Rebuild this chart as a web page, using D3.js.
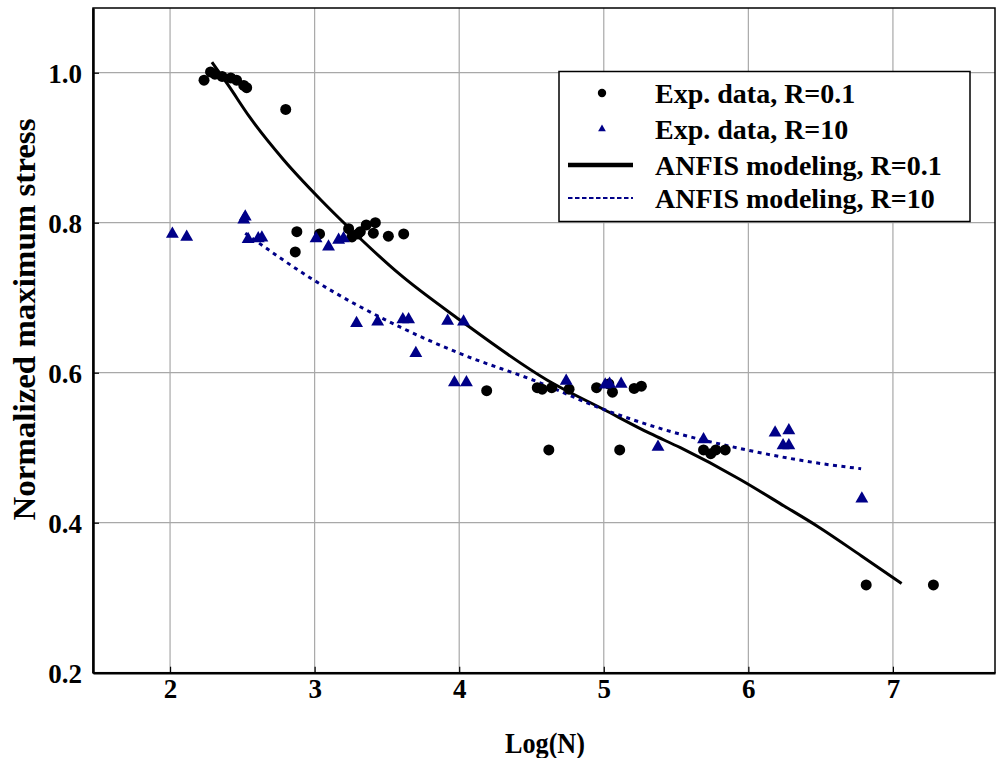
<!DOCTYPE html>
<html>
<head>
<meta charset="utf-8">
<script src="https://cdn.jsdelivr.net/npm/d3@7"></script>
<style>
  html, body { margin: 0; padding: 0; background: #fff; }
  svg { display: block; }
  text { font-family: "Liberation Serif", "Times New Roman", serif; font-weight: bold; fill: #000; }
</style>
</head>
<body>
<svg id="chart" width="997" height="758"></svg>
<script>
// ---- data ----
const xTicks = [2, 3, 4, 5, 6, 7];
const yTicks = [0.2, 0.4, 0.6, 0.8, 1.0];

const expR01 = [
  [2.235,0.990],[2.28,1.001],[2.31,0.998],[2.36,0.995],[2.42,0.993],[2.46,0.990],[2.51,0.983],[2.53,0.980],
  [2.80,0.951],[2.866,0.761],[2.877,0.788],[3.034,0.785],[3.235,0.792],[3.258,0.781],[3.30,0.785],
  [3.316,0.788],[3.357,0.797],[3.406,0.786],[3.42,0.800],[3.51,0.782],[3.616,0.785],
  [4.19,0.576],[4.54,0.580],[4.574,0.578],[4.64,0.580],[4.76,0.578],[4.62,0.497],[4.95,0.580],
  [5.035,0.585],[5.06,0.574],[5.11,0.497],[5.21,0.579],[5.26,0.582],
  [5.69,0.497],[5.74,0.492],[5.775,0.497],[5.84,0.497],[6.815,0.317],[7.28,0.317]
];
const expR10 = [
  [2.016,0.785],[2.115,0.781],[2.51,0.804],[2.52,0.808],[2.54,0.778],[2.61,0.779],[2.635,0.780],
  [3.01,0.779],[3.096,0.768],[3.166,0.777],[3.20,0.779],[3.29,0.666],[3.436,0.668],[3.61,0.671],
  [3.65,0.671],[3.70,0.626],[3.92,0.669],[4.03,0.668],[3.967,0.587],[4.05,0.587],[4.74,0.589],
  [5.01,0.584],[5.04,0.585],[5.12,0.585],[5.375,0.501],[5.69,0.511],[6.185,0.520],[6.28,0.523],
  [6.24,0.503],[6.28,0.503],[6.785,0.432]
];
const anfisR01 = [
  [2.29,1.014],[2.40,0.984],[2.55,0.941],[2.785,0.884],[3.04,0.831],[3.25,0.791],[3.59,0.731],
  [4.00,0.671],[4.61,0.590],[5.00,0.551],[5.32,0.519],[5.53,0.500],
  [5.94,0.458],[6.25,0.422],[6.48,0.395],[6.78,0.356],[7.06,0.319]
];
const anfisR10 = [
  [2.52,0.786],[2.99,0.724],[3.59,0.661],[4.00,0.626],[4.54,0.588],[5.00,0.551],
  [5.42,0.524],[5.99,0.497],[6.57,0.477],[6.78,0.472]
];
const legendLabels = ["Exp. data, R=0.1", "Exp. data, R=10", "ANFIS modeling, R=0.1", "ANFIS modeling, R=10"];
const xTitle = "Log(N)";
const yTitle = "Normalized maximum stress";

// ---- layout ----
const L = 93, R = 995, T = 8, B = 672.7;
const navy = "#000088";
const svg = d3.select("#chart");
const x = d3.scaleLinear().domain([1.467, 7.706]).range([L, R]);
const y = d3.scaleLinear().domain([0.2, 1.0863]).range([B, T]);

// grid
svg.append("g").selectAll("line").data(xTicks).join("line")
  .attr("x1", d => x(d)).attr("x2", d => x(d)).attr("y1", T).attr("y2", B)
  .attr("stroke", "#a8a8a8").attr("stroke-width", 1.2);
svg.append("g").selectAll("line").data(yTicks.filter(d => d > 0.2)).join("line")
  .attr("x1", L).attr("x2", R).attr("y1", d => y(d)).attr("y2", d => y(d))
  .attr("stroke", "#a8a8a8").attr("stroke-width", 1.2);

// frame
svg.append("rect").attr("x", L).attr("y", T).attr("width", R - L).attr("height", B - T)
  .attr("fill", "none").attr("stroke", "#000").attr("stroke-width", 1.5);

// axes
const xAxis = d3.axisBottom(x).tickValues(xTicks).tickSizeInner(-6).tickSizeOuter(0).tickPadding(12)
  .tickFormat(d3.format("d"));
const gx = svg.append("g").attr("transform", `translate(0,${B})`).call(xAxis);
gx.select(".domain").attr("stroke", "#000").attr("stroke-width", 2.5);
gx.selectAll(".tick line").attr("stroke", "#000").attr("stroke-width", 1.2);
gx.selectAll("text").attr("font-size", 27).attr("font-family", "Liberation Serif").attr("font-weight", "bold")
  .attr("dy", "0.5em");

const yAxis = d3.axisLeft(y).tickValues(yTicks).tickSizeInner(-6).tickSizeOuter(0).tickPadding(11)
  .tickFormat(d3.format(".1f"));
const gy = svg.append("g").attr("transform", `translate(${L},0)`).call(yAxis);
gy.select(".domain").attr("stroke", "#000").attr("stroke-width", 2.5);
gy.selectAll(".tick line").attr("stroke", "#000").attr("stroke-width", 1.2);
gy.selectAll("text").attr("font-size", 27).attr("font-family", "Liberation Serif").attr("font-weight", "bold")
  .attr("dy", "0.36em");

// titles
svg.append("text").attr("x", 545).attr("y", 753).attr("text-anchor", "middle")
  .attr("font-size", 29).attr("textLength", 80).attr("lengthAdjust", "spacingAndGlyphs").text(xTitle);
svg.append("text").attr("transform", `translate(35,${(118 + 521) / 2}) rotate(-90)`)
  .attr("text-anchor", "middle").attr("font-size", 31)
  .attr("textLength", 402).attr("lengthAdjust", "spacingAndGlyphs").text(yTitle);

// lines
const line = d3.line().x(d => x(d[0])).y(d => y(d[1])).curve(d3.curveMonotoneX);
svg.append("path").datum(anfisR01).attr("d", line).attr("fill", "none")
  .attr("stroke", "#000").attr("stroke-width", 3);
svg.append("path").datum(anfisR10).attr("d", line).attr("fill", "none")
  .attr("stroke", navy).attr("stroke-width", 3).attr("stroke-dasharray", "4,4.5");

// points
svg.append("g").selectAll("circle").data(expR01).join("circle")
  .attr("cx", d => x(d[0])).attr("cy", d => y(d[1])).attr("r", 5.5).attr("fill", "#000");
const tri = d3.symbol().type(d3.symbolTriangle).size(72);
svg.append("g").selectAll("path").data(expR10).join("path")
  .attr("transform", d => `translate(${x(d[0])},${y(d[1])})`).attr("d", tri).attr("fill", navy);

// legend
const lg = svg.append("g");
lg.append("rect").attr("x", 559).attr("y", 71.5).attr("width", 411).attr("height", 150)
  .attr("fill", "#fff").attr("stroke", "#000").attr("stroke-width", 1.5);
const rows = [93, 129, 165, 198];
lg.append("circle").attr("cx", 602).attr("cy", rows[0]).attr("r", 4.2).attr("fill", "#000");
lg.append("path").attr("transform", `translate(602,${rows[1]})`)
  .attr("d", d3.symbol().type(d3.symbolTriangle).size(26)()).attr("fill", navy);
lg.append("line").attr("x1", 568).attr("x2", 633).attr("y1", rows[2]).attr("y2", rows[2])
  .attr("stroke", "#000").attr("stroke-width", 4.5);
lg.append("line").attr("x1", 568).attr("x2", 633).attr("y1", rows[3]).attr("y2", rows[3])
  .attr("stroke", navy).attr("stroke-width", 2).attr("stroke-dasharray", "4.5,2.5");
lg.selectAll("text.lt").data(legendLabels).join("text").attr("class", "lt")
  .attr("x", 655).attr("y", (d, i) => rows[i] + 9.5).attr("font-size", 28).text(d => d);
</script>
</body>
</html>
